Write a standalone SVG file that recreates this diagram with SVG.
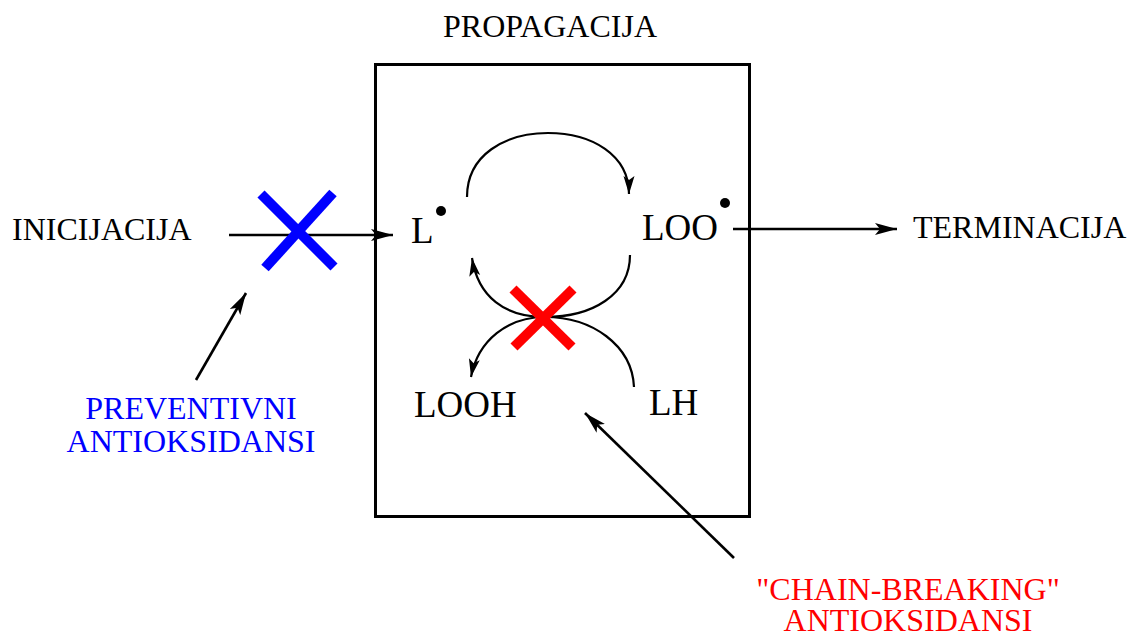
<svg xmlns="http://www.w3.org/2000/svg" width="1129" height="634" viewBox="0 0 1129 634">
<defs>
<style>
text{font-family:"Liberation Serif","Times New Roman",serif;fill:#000}
.t{font-size:32px}
.lab{font-size:37px}
.line{stroke:#000;stroke-width:2.6;fill:none}
.curve{stroke:#000;stroke-width:2.2;fill:none}
</style>
<marker id="ah" markerUnits="userSpaceOnUse" markerWidth="24" markerHeight="14" viewBox="0 0 24 14" refX="22" refY="7" orient="auto">
<path d="M0,1 L22,7 L0,13 L5,7 Z" fill="#000"/>
</marker>
<marker id="ahs" markerUnits="userSpaceOnUse" markerWidth="20" markerHeight="12" viewBox="0 0 20 12" refX="18" refY="6" orient="auto">
<path d="M0,0.5 L18,6 L0,11.5 L4,6 Z" fill="#000"/>
</marker>
</defs>
<rect width="1129" height="634" fill="#fff"/>

<g id="box">
<rect x="375.5" y="64.5" width="374" height="452" fill="none" stroke="#000" stroke-width="3"/>
</g>

<g id="connectors">
<line class="line" x1="229" y1="235" x2="393" y2="235" marker-end="url(#ah)"/>
<line class="line" x1="733" y1="229" x2="897" y2="229" marker-end="url(#ah)"/>
<line class="line" x1="196" y1="380" x2="246" y2="293" marker-end="url(#ah)"/>
<line class="line" x1="734" y1="558" x2="585" y2="413" marker-end="url(#ah)"/>
<path class="curve" d="M467,197 C467,155 505,133 548,133 C592,133 629,155 629,194" marker-end="url(#ahs)"/>
<path class="curve" d="M630,255 C630,295 592,317 545,317 C505,317 478,297 472,258" marker-end="url(#ahs)"/>
<path class="curve" d="M634,387 C632,345 592,317 545,317 C508,317 478,340 471,377" marker-end="url(#ahs)"/>
</g>

<g id="blue-cross">
<line x1="261" y1="194" x2="334" y2="267" stroke="#0000ff" stroke-width="10"/>
<line x1="333" y1="193" x2="265" y2="268" stroke="#0000ff" stroke-width="10"/>
</g>

<g id="red-cross">
<line x1="513" y1="289" x2="572" y2="347" stroke="#ff0000" stroke-width="10"/>
<line x1="573" y1="289" x2="514" y2="347" stroke="#ff0000" stroke-width="10"/>
</g>

<g id="propagacija"><text class="t" x="550" y="37" text-anchor="middle">PROPAGACIJA</text></g>
<g id="inicijacija"><text class="t" x="12" y="240">INICIJACIJA</text></g>
<g id="terminacija"><text class="t" x="913" y="238">TERMINACIJA</text></g>

<g id="L"><text class="lab" x="411" y="243">L</text><circle cx="441" cy="211" r="5"/></g>
<g id="LOO"><text class="lab" x="642" y="240">LOO</text><circle cx="725" cy="203" r="5"/></g>
<g id="LOOH"><text class="lab" x="414" y="417">LOOH</text></g>
<g id="LH"><text class="lab" x="649" y="415">LH</text></g>

<g id="preventivni">
<text class="t" x="191" y="419" text-anchor="middle" style="fill:#0000ff">PREVENTIVNI</text>
<text class="t" x="191" y="452" text-anchor="middle" style="fill:#0000ff">ANTIOKSIDANSI</text>
</g>
<g id="chain-breaking">
<text class="t" x="908" y="600" text-anchor="middle" style="fill:#ff0000">"CHAIN-BREAKING"</text>
<text class="t" x="908" y="631" text-anchor="middle" style="fill:#ff0000">ANTIOKSIDANSI</text>
</g>
</svg>
